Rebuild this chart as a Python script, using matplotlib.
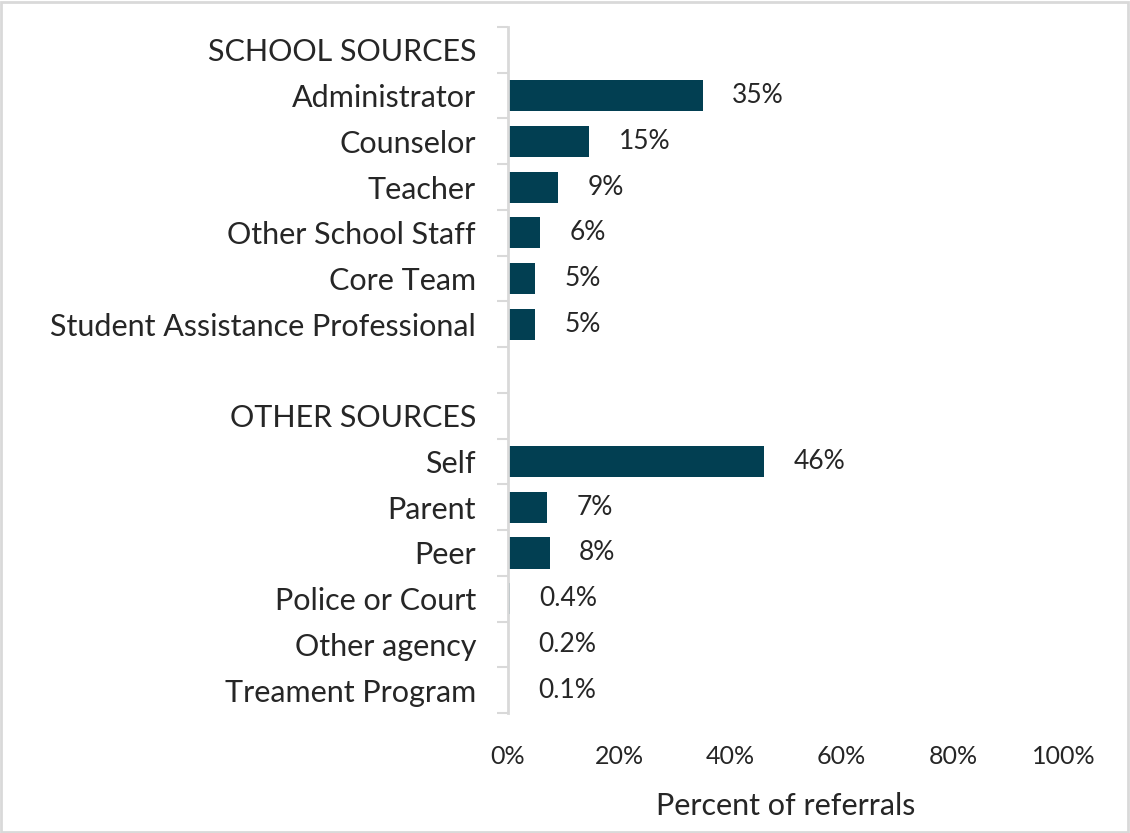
import matplotlib
matplotlib.use('Agg')
import matplotlib.pyplot as plt
import numpy as np
from matplotlib.patches import Rectangle

plt.rcParams['font.family'] = ['Lato', 'DejaVu Sans']

# category rows, top to bottom ('' marks a gap row / header row)
categories = ['SCHOOL SOURCES', 'Administrator', 'Counselor', 'Teacher',
              'Other School Staff', 'Core Team', 'Student Assistance Professional',
              '', 'OTHER SOURCES', 'Self', 'Parent', 'Peer', 'Police or Court',
              'Other agency', 'Treament Program']
values = [None, 35, 14.6, 9, 5.8, 4.9, 4.9,
          None, None, 46, 7, 7.5, 0.4, 0.2, 0.1]
value_labels = ['', '35%', '15%', '9%', '6%', '5%', '5%',
                '', '', '46%', '7%', '8%', '0.4%', '0.2%', '0.1%']
xticks = [0, 20, 40, 60, 80, 100]

bar_color = '#023f52'
grid_color = '#d9d9d9'
text_color = '#262626'

fig = plt.figure(figsize=(11.3, 8.33), dpi=100)
ax = fig.add_axes([0.4496, 0.144, 0.4920, 0.8236])

n = len(categories)
ypos = np.arange(n)
for y, v, lab in zip(ypos, values, value_labels):
    if v is None:
        continue
    ax.barh(y, v, height=0.68, color=bar_color)
    ax.text(v + 5.3, y, lab, va='center', ha='left', fontsize=19, color=text_color)

ax.set_ylim(n - 0.5, -0.5)
ax.set_xlim(0, 100)

ax.set_yticks(ypos)
ax.set_yticklabels(categories, fontsize=22, color=text_color)
ax.tick_params(axis='y', which='major', length=0, pad=23)
ax.set_yticks(np.arange(n + 1) - 0.5, minor=True)
ax.tick_params(axis='y', which='minor', length=8, width=1.5, color=grid_color)

ax.set_xticks(xticks)
ax.set_xticklabels(['%d%%' % t for t in xticks], fontsize=18, color=text_color)
ax.tick_params(axis='x', length=0, pad=23)
ax.set_xlabel('Percent of referrals', fontsize=22, color=text_color, labelpad=17)

for s in ['top', 'right', 'bottom']:
    ax.spines[s].set_visible(False)
ax.spines['left'].set_color(grid_color)
ax.spines['left'].set_linewidth(2)

fig.patches.append(Rectangle((0.001, 0.001), 0.997, 0.996, transform=fig.transFigure,
                             fill=False, edgecolor=grid_color, linewidth=2))

fig.savefig('out.png', dpi=100)
